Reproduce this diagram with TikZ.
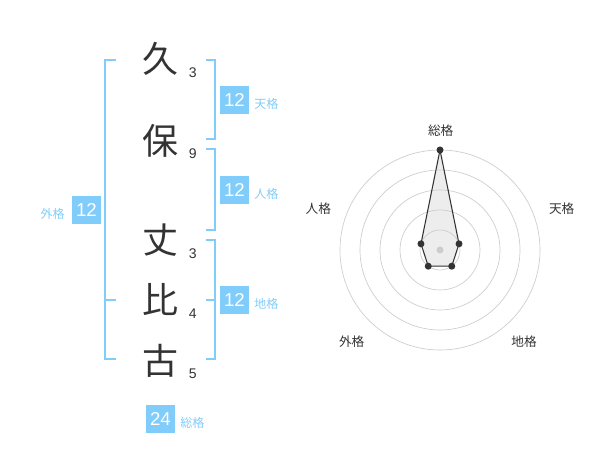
\documentclass[tikz,border=0pt]{standalone}
\usepackage{fontspec}
\setmainfont{Noto Sans CJK JP}
\newfontfamily\numfont{Liberation Sans}
\usepackage{xcolor}
\usetikzlibrary{positioning}
\definecolor{sky}{RGB}{128,204,250}
\definecolor{ink}{RGB}{51,51,51}
\tikzset{kanji/.style={text=ink,inner sep=0,font=\fontsize{27}{27}\selectfont},
    strokes/.style={text=ink,inner sep=0,font=\numfont\fontsize{10.5}{10.5}\selectfont},
    score/.style={fill=sky,text=white,minimum size=21.3pt,inner sep=0,font=\numfont\fontsize{14}{14}\selectfont},
    kaku/.style={text=sky,inner sep=0,font=\fontsize{9}{9}\selectfont},
    bracket/.style={draw=sky,line width=1.3pt},
    ring/.style={draw=black!20,line width=0.5pt},
    axis/.style={text=ink,inner sep=0,font=\fontsize{9.5}{9.5}\selectfont}}

\begin{document}
\begin{tikzpicture}[x=0.75pt,y=-0.75pt]
    \useasboundingbox (0,0) rectangle (600,470);

    % name
    \node[kanji] (k1)at (160,59) {久};
    \node[kanji] (k2)at (160,141) {保};
    \node[kanji] (k3)at (160,240) {丈};
    \node[kanji] (k4)at (160,300) {比};
    \node[kanji] (k5)at (160,361) {古};
    \node[strokes] (n1)at (192.7,72.7) {3};
    \node[strokes] (n2)at (192.7,153.3) {9};
    \node[strokes] (n3)at (192.7,253.3) {3};
    \node[strokes] (n4)at (192.7,313.3) {4};
    \node[strokes] (n5)at (192.7,373.3) {5};

    % brackets
    \draw[bracket] (116,60) -- (105,60) -- (105,359) -- (116,359);
    \draw[bracket] (105,300) -- (116,300);
    \draw[bracket] (206,60) -- (215,60) -- (215,139) -- (206,139);
    \draw[bracket] (206,149) -- (215,149) -- (215,230) -- (206,230);
    \draw[bracket] (206,240) -- (215,240) -- (215,359) -- (206,359);
    \draw[bracket] (206,300) -- (215,300);

    % scores
    \node[score] (ten)at (234.5,100) {12};
    \node[kaku,anchor=west] (tenl)at (254,103.5) {天格};
    \node[score] (jin)at (234.5,190) {12};
    \node[kaku,anchor=west] (jinl)at (254,193.5) {人格};
    \node[score] (chi)at (234.5,300) {12};
    \node[kaku,anchor=west] (chil)at (254,303.5) {地格};
    \node[score] (gai)at (86.5,210) {12};
    \node[kaku,anchor=east] (gail)at (65,213.5) {外格};
    \node[score] (sou)at (160.5,419) {24};
    \node[kaku,anchor=west] (soul)at (180,422.5) {総格};

    % radar
    \begin{scope}[shift={(440,250)},y=0.75pt]
        \coordinate (p1) at (90:100);
        \coordinate (p2) at (18:20);
        \coordinate (p3) at (-54:20);
        \coordinate (p4) at (-126:20);
        \coordinate (p5) at (162:20);
        \fill[black!7] (p1) -- (p2) -- (p3) -- (p4) -- (p5) -- cycle;
        \foreach \r in {20,40,60,80,100}
            \draw[ring] (0,0) circle [radius=\r];
        \fill[black!20] (0,0) circle [radius=3.5];
        \draw[draw=ink,line width=0.8pt,line join=round] (p1) -- (p2) -- (p3) -- (p4) -- (p5) -- cycle;
        \foreach \p in {p1,p2,p3,p4,p5}
            \fill[ink] (\p) circle [radius=3.5];
    \end{scope}
    \node[axis] (a1)at (440.7,130.7) {総格};
    \node[axis] (a2)at (561.7,208.3) {天格};
    \node[axis] (a3)at (524,341.7) {地格};
    \node[axis] (a4)at (351.7,341.7) {外格};
    \node[axis] (a5)at (318.3,208.3) {人格};
\end{tikzpicture}
\end{document}
